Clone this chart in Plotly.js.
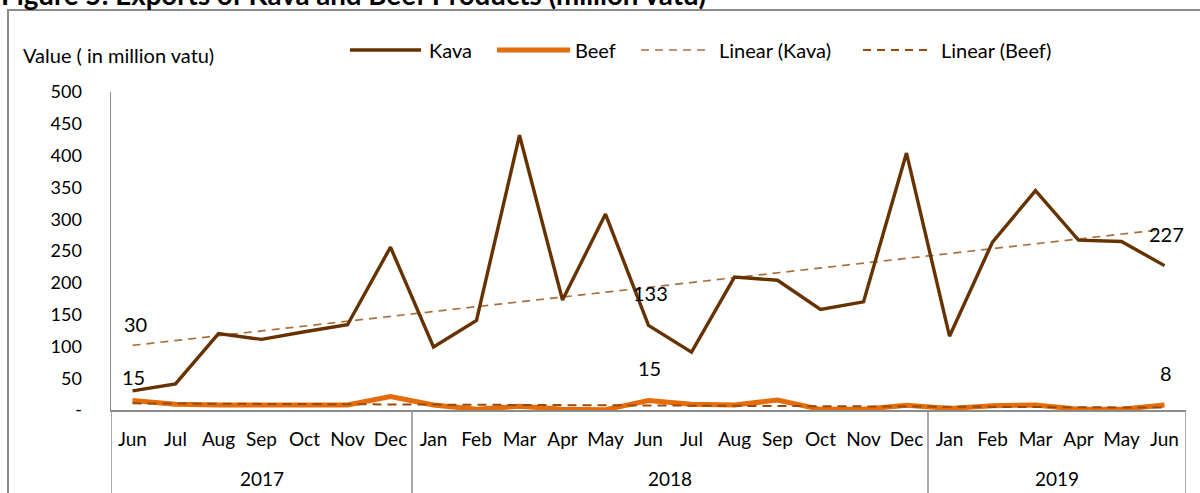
<!DOCTYPE html>
<html>
<head>
<meta charset="utf-8">
<script src="https://cdn.plot.ly/plotly-3.0.1.min.js"></script>
<style>html,body{margin:0;padding:0;background:#fff;}#chart{width:1200px;height:493px;}</style>
</head>
<body>
<div id="chart"></div>
<script>
// ---- data ----
const years  = ["2017","2017","2017","2017","2017","2017","2017",
                "2018","2018","2018","2018","2018","2018","2018","2018","2018","2018","2018","2018",
                "2019","2019","2019","2019","2019","2019"];
const months = ["Jun","Jul","Aug","Sep","Oct","Nov","Dec",
                "Jan","Feb","Mar","Apr","May","Jun","Jul","Aug","Sep","Oct","Nov","Dec",
                "Jan","Feb","Mar","Apr","May","Jun"];
const kava = [30, 41, 120, 111, 123, 134, 256, 99, 141, 432, 173, 308, 133, 91, 209, 204, 158, 170, 404, 116, 264, 345, 267, 265, 227];
const beef = [15, 9, 8, 8.5, 8, 8, 21, 8, 1, 6, 1, 0.5, 15, 9, 8, 15.5, 1, 1, 7.5, 2.5, 6.5, 8, 1, 1, 8];
const labelIdx = [0, 12, 24];
const yTickVals = [0, 50, 100, 150, 200, 250, 300, 350, 400, 450, 500];
const yTickText = ["-", "50", "100", "150", "200", "250", "300", "350", "400", "450", "500"];
const seriesNames = ["Kava", "Beef", "Linear (Kava)", "Linear (Beef)"];
const titleText = "Figure 5: Exports of Kava and Beef Products (million vatu)";
const yTitleText = "Value ( in million vatu)";

// ---- helpers ----
function linFit(arr){
  const n = arr.length; let sx=0, sy=0, sxy=0, sxx=0;
  arr.forEach((v,i)=>{sx+=i; sy+=v; sxy+=i*v; sxx+=i*i;});
  const b = (n*sxy - sx*sy)/(n*sxx - sx*sx); const a = (sy - b*sx)/n;
  return arr.map((_,i)=>a+b*i);
}
const L=111, R=14, T=92, B=83, W=1200, H=493;
const PW = W-L-R, PH = H-T-B;
const px = x => (x-L)/PW;
const py = y => (H-B-y)/PH;

const C_KAVA = "#663300", C_BEEF = "#E46C0A", C_LK = "#A8703F", C_LB = "#9A4A0A", C_AX = "#8c8c8c";
const FONT = "Lato, 'Open Sans', sans-serif";
const cats = years.map((y,i)=>months[i]+" "+y);

const traces = [
  {x: cats, y: linFit(kava), type:"scatter", mode:"lines", name: seriesNames[2],
   line:{color:C_LK, width:1.7, dash:"8px,6px"}, hoverinfo:"skip"},
  {x: cats, y: kava, type:"scatter", mode:"lines", name: seriesNames[0],
   line:{color:C_KAVA, width:3.4}},
  {x: cats, y: beef, type:"scatter", mode:"lines", name: seriesNames[1],
   line:{color:C_BEEF, width:5}},
  {x: cats, y: linFit(beef), type:"scatter", mode:"lines", name: seriesNames[3],
   line:{color:C_LB, width:2, dash:"9px,6px"}, hoverinfo:"skip"}
];

const annotations = [];
const shapes = [
  {type:"rect", xref:"paper", yref:"paper", x0:px(8), x1:px(1215), y0:py(10), y1:py(510),
   line:{color:C_AX, width:2}, fillcolor:"rgba(0,0,0,0)", layer:"below"}
];
labelIdx.forEach((i,k)=>{
  annotations.push({x:cats[i], y:kava[i], xref:"x", yref:"y", text:String(kava[i]),
    showarrow:false, yshift: k===0?67:32, xshift: k===0?3:2, font:{family:FONT,size:20,color:"#000"}});
  annotations.push({x:cats[i], y:beef[i], xref:"x", yref:"y", text:String(beef[i]),
    showarrow:false, yshift: k===0?23:32, xshift: 1, font:{family:FONT,size:20,color:"#000"}});
});
// year groups: labels and dividers
const groups = [];
years.forEach((y,i)=>{
  if(!groups.length || groups[groups.length-1].year!==y) groups.push({year:y, start:i, end:i});
  else groups[groups.length-1].end = i;
});
groups.forEach((g,k)=>{
  annotations.push({x:(g.start+g.end)/2, xref:"x", y:py(478), yref:"paper", text:g.year,
    showarrow:false, yanchor:"middle", font:{family:FONT,size:19,color:"#000"}});
  if(k>0) shapes.push({type:"line", xref:"x", yref:"paper", x0:g.start-0.5, x1:g.start-0.5,
    y0:0, y1:py(500), line:{color:C_AX, width:1.5}});
});
shapes.push({type:"line", xref:"x", yref:"paper", x0:years.length-0.5, x1:years.length-0.5,
  y0:0, y1:py(500), line:{color:C_AX, width:1.5}});
shapes.push({type:"line", xref:"x", yref:"paper", x0:-0.5, x1:-0.5,
  y0:0, y1:py(500), line:{color:C_AX, width:1.5}});

// title (cropped at top) and y title
annotations.push({xref:"paper", yref:"paper", x:px(-1), y:py(-5), xanchor:"left", yanchor:"middle",
  text:"<b>"+titleText+"</b>", showarrow:false, font:{family:FONT,size:27.7,color:"#000"}});
annotations.push({xref:"paper", yref:"paper", x:px(21), y:py(55), xanchor:"left", yanchor:"middle",
  text:yTitleText, showarrow:false, font:{family:FONT,size:20,color:"#000"}});

// manual legend
const legItems = [
  {x0:350, x1:421, tx:427, color:C_KAVA, width:3.4, dash:"solid", name:seriesNames[0]},
  {x0:497, x1:570, tx:573, color:C_BEEF, width:5, dash:"solid", name:seriesNames[1]},
  {x0:641, x1:706, tx:717, color:C_LK, width:1.7, dash:"8px,6px", name:seriesNames[2]},
  {x0:863, x1:928, tx:939, color:C_LB, width:2, dash:"8px,6px", name:seriesNames[3]}
];
legItems.forEach(it=>{
  shapes.push({type:"line", xref:"paper", yref:"paper", x0:px(it.x0), x1:px(it.x1), y0:py(50), y1:py(50),
    line:{color:it.color, width:it.width, dash:it.dash}});
  annotations.push({xref:"paper", yref:"paper", x:px(it.tx), y:py(50), xanchor:"left", yanchor:"middle",
    text:it.name, showarrow:false, font:{family:FONT,size:20,color:"#000"}});
});

const layout = {
  width:W, height:H, margin:{l:L, r:R, t:T, b:B},
  paper_bgcolor:"#fff", plot_bgcolor:"#fff", showlegend:false,
  font:{family:FONT, size:17, color:"#000"},
  xaxis:{type:"category", range:[-0.5, cats.length-0.5], tickmode:"array", tickvals:cats, ticktext:months,
    showline:true, linecolor:C_AX, linewidth:1.5, showgrid:false, zeroline:false, ticks:"",
    ticklabelstandoff:12, tickfont:{family:FONT,size:19,color:"#000"}, tickangle:0},
  yaxis:{range:[0,500], tickmode:"array", tickvals:yTickVals, ticktext:yTickText,
    showline:true, linecolor:C_AX, linewidth:1.5, showgrid:false, zeroline:false,
    ticks:"", ticklabelstandoff:24, tickfont:{family:FONT,size:18,color:"#000"}},
  annotations: annotations, shapes: shapes
};
Plotly.newPlot("chart", traces, layout, {staticPlot:true});
</script>
</body>
</html>
